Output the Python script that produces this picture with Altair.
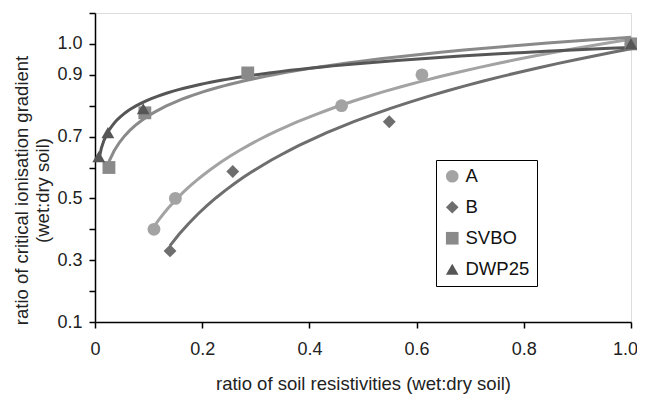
import altair as alt
import pandas as pd

# --- data ---
series_names = ["A", "B", "SVBO", "DWP25"]
a_x = [0.11, 0.15, 0.46, 0.61, 1.0]
a_y = [0.40, 0.50, 0.80, 0.90, 1.0]
b_x = [0.14, 0.257, 0.549, 1.0]
b_y = [0.33, 0.587, 0.748, 1.0]
svbo_x = [0.026, 0.093, 0.285, 1.0]
svbo_y = [0.60, 0.777, 0.906, 1.0]
dwp_x = [0.007, 0.024, 0.09, 1.0]
dwp_y = [0.635, 0.713, 0.79, 1.0]

colors = ["#a3a3a3", "#6e6e6e", "#8a8a8a", "#565656"]
shapes = ["circle", "diamond", "square", "triangle-up"]

x_ticks = [0, 0.2, 0.4, 0.6, 0.8, 1.0]
y_ticks = [0.1, 0.2, 0.3, 0.4, 0.5, 0.6, 0.7, 0.8, 0.9, 1.0, 1.1]
y_labels = [0.1, 0.3, 0.5, 0.7, 0.9, 1.0]

rows = []
for name, xs, ys in zip(series_names, [a_x, b_x, svbo_x, dwp_x], [a_y, b_y, svbo_y, dwp_y]):
    for xv, yv in zip(xs, ys):
        rows.append({"series": name, "x": xv, "y": yv})
df = pd.DataFrame(rows)

FONT = "Liberation Sans"

xscale = alt.Scale(domain=[0, 1.0], nice=False, zero=False)
yscale = alt.Scale(domain=[0.1, 1.1], nice=False, zero=False)

xaxis = alt.Axis(
    values=x_ticks,
    labelExpr="datum.value == 0 ? '0' : format(datum.value, '.1f')",
    labelOffset={"condition": {"test": "datum.value == 1", "value": -6}, "value": 0},
    title="ratio of soil resistivities (wet:dry soil)",
    grid=False, domainColor="black", domainWidth=1.5, tickColor="black",
    tickWidth=1.5, tickSize=6, labelPadding=12, titlePadding=16,
    labelFontSize=18, titleFontSize=18.5, labelFont=FONT, titleFont=FONT,
    labelColor="#222", titleColor="#222", titleFontWeight="normal",
    labelOverlap=False, labelFlush=False,
)
label_codes = "[" + ",".join(str(int(round(v * 10))) for v in y_labels) + "]"
yaxis = alt.Axis(
    values=y_ticks,
    labelExpr=f"indexof({label_codes}, round(datum.value * 10)) >= 0 ? format(datum.value, '.1f') : ''",
    title=["ratio of critical ionisation gradient", "(wet:dry soil)"],
    grid=False, domainColor="black", domainWidth=1.5, tickColor="black",
    tickWidth=1.5, tickSize=6, labelPadding=7, titlePadding=4,
    labelFontSize=18, titleFontSize=18.5, labelFont=FONT, titleFont=FONT,
    labelColor="#222", titleColor="#222", titleFontWeight="normal",
    titleLineHeight=21, titleY=177,
    labelOverlap=False, labelFlush=False,
)

legend = alt.Legend(
    title=None, orient="none", legendX=341, legendY=147,
    strokeColor="black", fillColor="white", padding=7,
    labelFontSize=18.5, labelFont=FONT, labelColor="#111",
    symbolSize=160, symbolStrokeWidth=0, rowPadding=12, labelOffset=4,
    symbolOpacity=1,
)

color = alt.Color("series:N", scale=alt.Scale(domain=series_names, range=colors), legend=legend)
shape = alt.Shape("series:N", scale=alt.Scale(domain=series_names, range=shapes), legend=legend)

base = alt.Chart(df)

lines = base.transform_regression(
    "x", "y", method="log", groupby=["series"]
).mark_line(strokeWidth=3).encode(
    x=alt.X("x:Q", scale=xscale, axis=xaxis),
    y=alt.Y("y:Q", scale=yscale, axis=yaxis),
    color=color,
)

points = base.mark_point(filled=True, size=165, opacity=1).encode(
    x=alt.X("x:Q", scale=xscale, axis=xaxis),
    y=alt.Y("y:Q", scale=yscale, axis=yaxis),
    color=color,
    shape=shape,
)

chart = alt.layer(lines, points).properties(
    width=536, height=309,
    autosize=alt.AutoSizeParams(type="none"),
    padding={"left": 87, "top": 5, "right": 6, "bottom": 74},
).configure_view(stroke=None).configure(background="white")

chart.save("out.html", embed_options={"renderer": "svg", "actions": False})
